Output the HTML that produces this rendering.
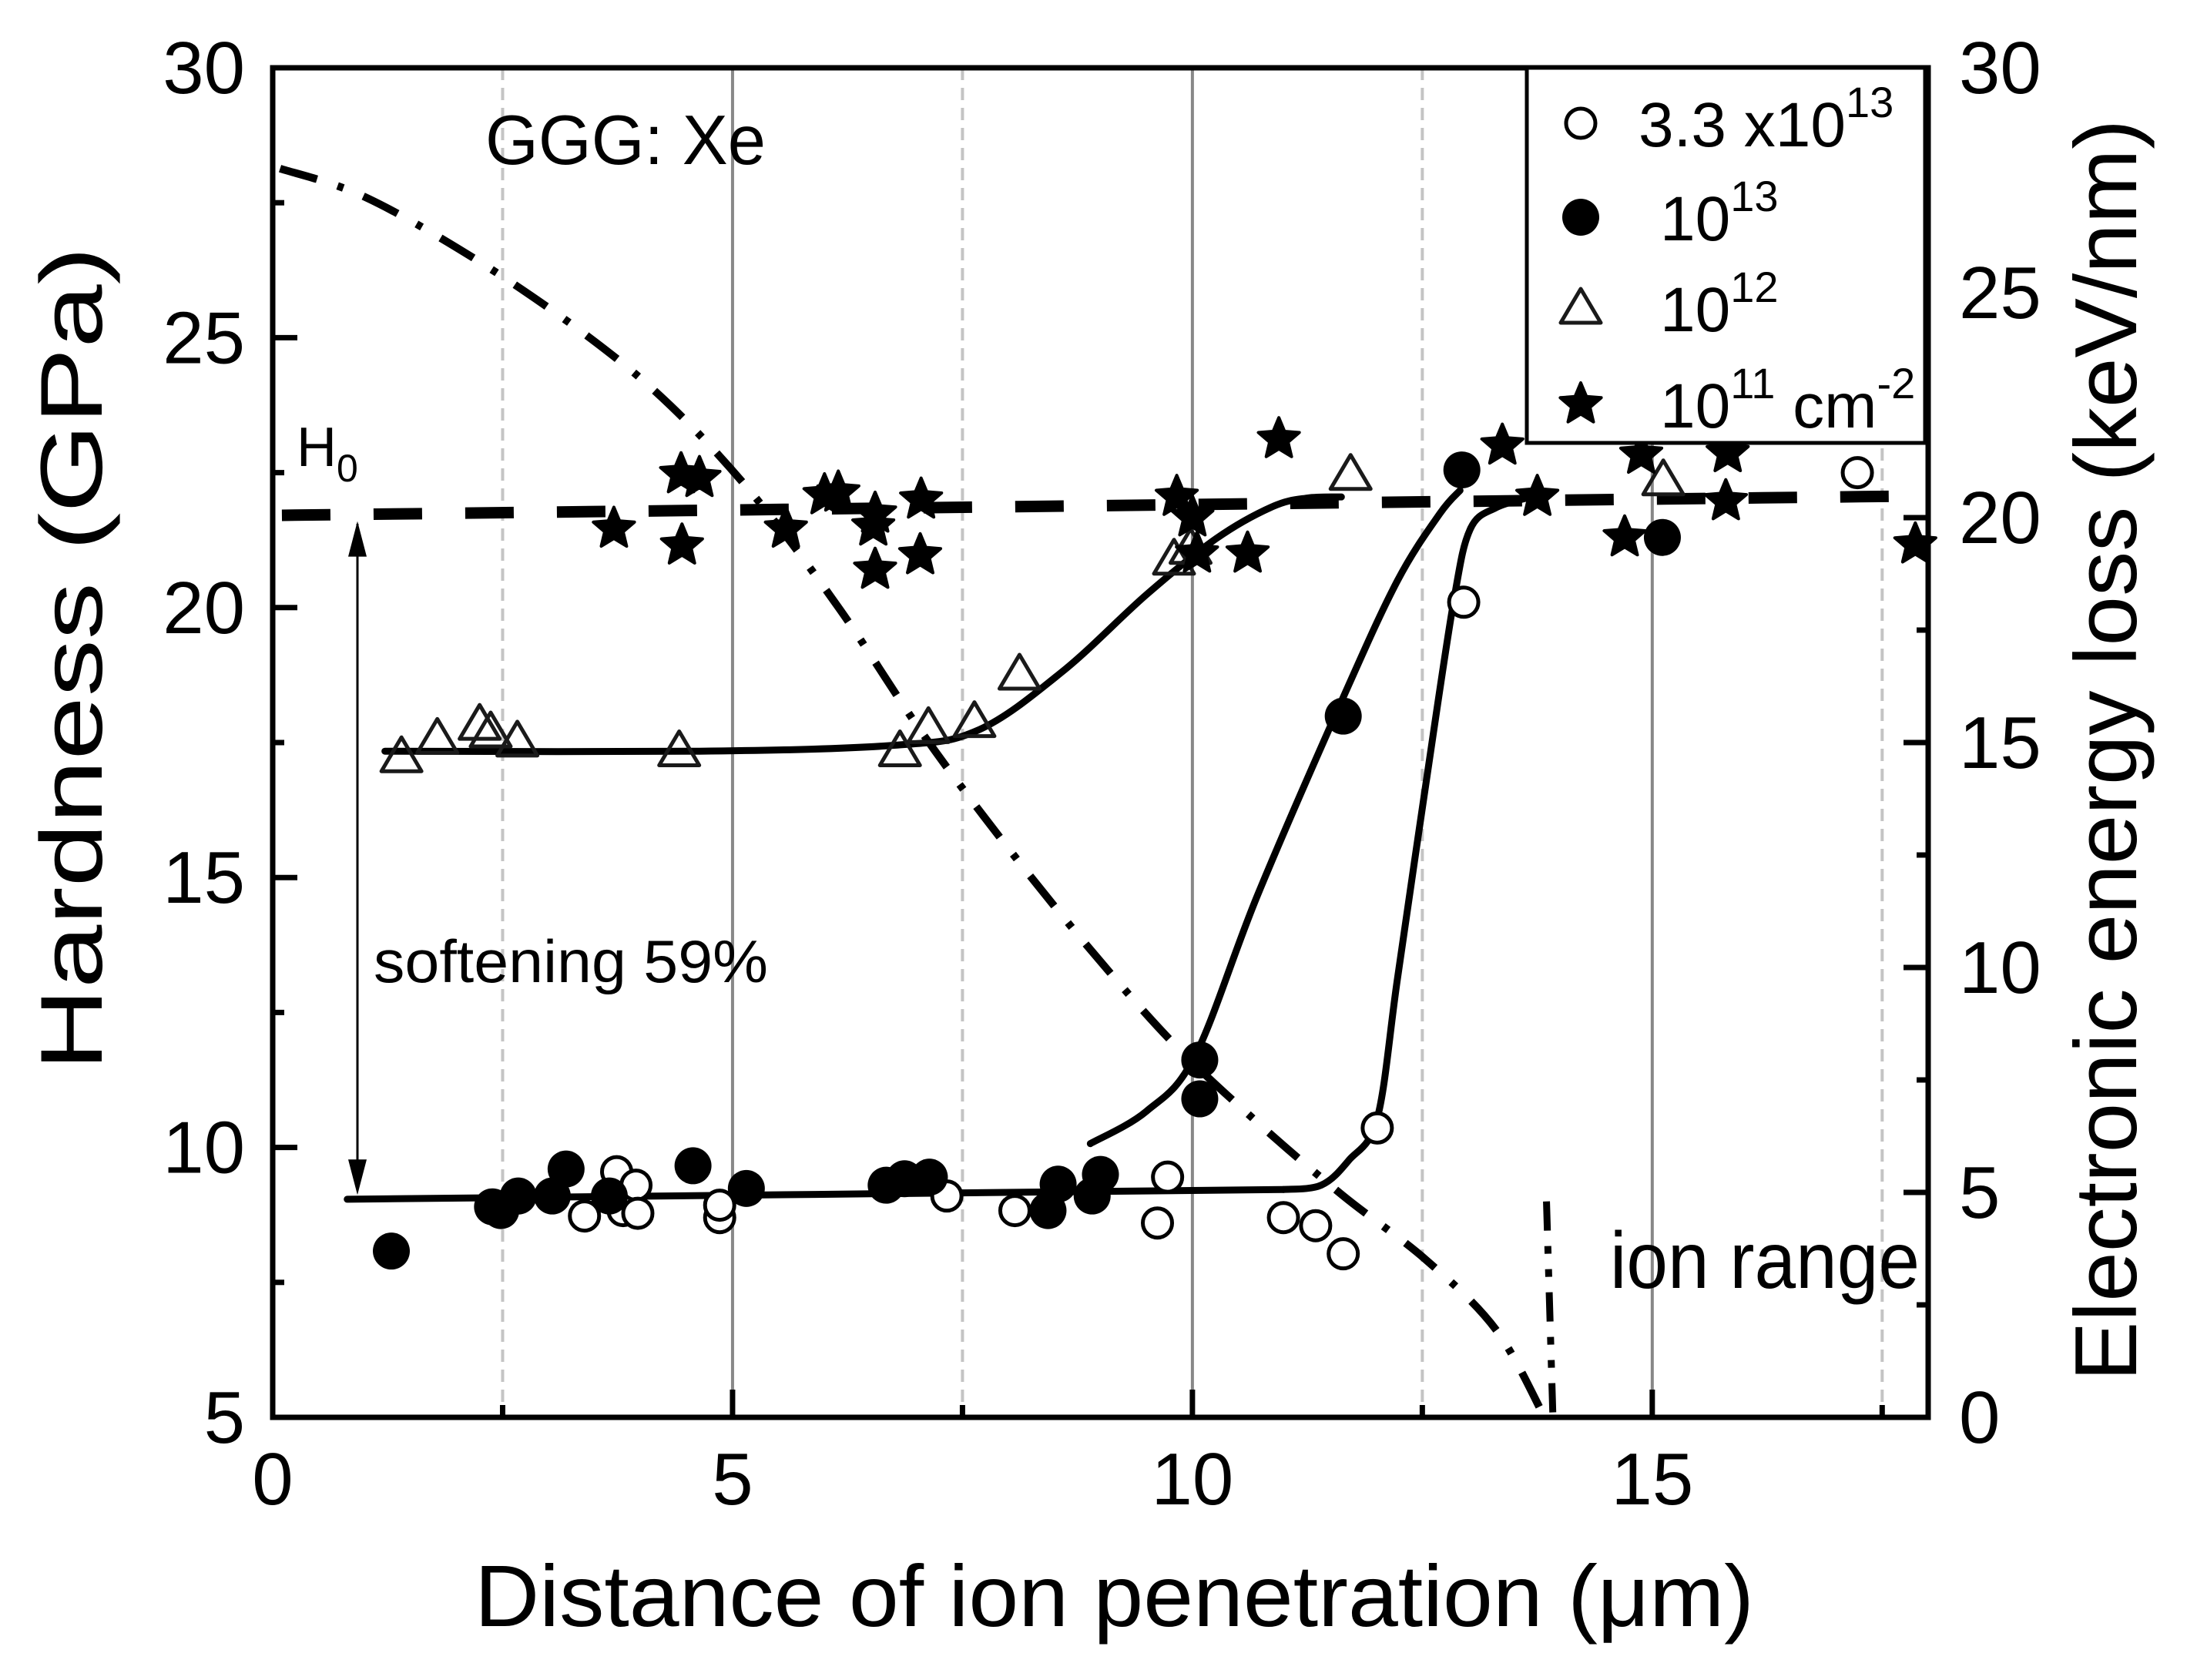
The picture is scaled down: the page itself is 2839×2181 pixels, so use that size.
<!DOCTYPE html>
<html><head><meta charset="utf-8"><style>
html,body{margin:0;padding:0;background:#fff}
svg{display:block}
text{font-family:"Liberation Sans",Arial,sans-serif;fill:#000}
</style></head><body>
<svg id="chart" width="2839" height="2181" viewBox="0 0 2839 2181" xmlns="http://www.w3.org/2000/svg">
<g id="grid"></g>
<g id="curves"></g>
<g id="marks"></g>
<g id="axes"></g>
<g id="labels">
  <text x="630" y="213" font-size="91" textLength="364" lengthAdjust="spacingAndGlyphs">GGG: Xe</text>
  <text x="385" y="605" font-size="72">H<tspan font-size="50" dy="20">0</tspan></text>
  <text x="485" y="1275" font-size="78" textLength="512" lengthAdjust="spacingAndGlyphs">softening 59%</text>
  <text x="2090" y="1672" font-size="104" textLength="402" lengthAdjust="spacingAndGlyphs">ion range</text>
  <text x="616" y="2111" font-size="113" textLength="1661" lengthAdjust="spacingAndGlyphs">Distance of ion penetration (μm)</text>
  <text transform="translate(132,855) rotate(-90)" text-anchor="middle" font-size="114" textLength="1070" lengthAdjust="spacingAndGlyphs">Hardness (GPa)</text>
  <text transform="translate(2773,974) rotate(-90)" text-anchor="middle" font-size="114" textLength="1638" lengthAdjust="spacingAndGlyphs">Electronic energy loss (keV/nm)</text>
</g>
<g id="legend">
  <rect x="1982" y="88" width="517" height="487" fill="#fff" stroke="#000" stroke-width="5"/>
</g>
</svg>
<script>
// ---- data ----
const xOpen = [3.39,3.74,3.81,3.95,3.97,4.86,4.86,7.33,8.07,9.62,9.73,10.99,11.34,11.64,12.01,12.95,17.23];
const yOpen = [8.73,9.55,8.83,9.30,8.78,8.70,8.93,9.10,8.83,8.60,9.45,8.70,8.55,8.03,10.36,20.10,22.50];
const xFill = [1.29,2.39,2.48,2.67,3.04,3.19,3.66,4.57,5.15,6.67,6.87,7.14,8.43,8.54,8.91,9.00,10.08,10.08,11.64,12.93,15.11];
const yFill = [8.08,8.90,8.83,9.10,9.10,9.60,9.10,9.66,9.24,9.30,9.42,9.45,8.83,9.32,9.10,9.50,11.62,10.90,17.99,22.55,21.30];
const xTri = [1.40,1.79,2.25,2.37,2.66,4.42,6.82,7.13,7.63,8.12,9.80,9.98,11.72,15.12];
const yTri = [17.24,17.58,17.84,17.70,17.53,17.35,17.35,17.78,17.89,18.77,20.90,21.10,22.47,22.37];
const xStar = [3.71,4.44,4.64,4.45,5.58,6.00,6.15,6.55,6.53,6.55,7.05,7.04,9.83,10.00,10.05,10.60,10.94,13.37,13.75,14.70,14.88,15.82,15.80,17.86];
const yStar = [21.46,22.47,22.40,21.15,21.46,22.08,22.13,21.74,21.50,20.70,22.00,20.97,22.05,21.67,21.00,21.00,23.12,23.00,22.05,21.30,22.83,22.86,21.97,21.17];
const fitTriX = [1.22,4.64,6.76,7.67,8.59,9.50,10.26,10.87,11.25,11.62];
const fitTriY = [17.34,17.34,17.45,17.73,18.82,20.24,21.28,21.87,22.03,22.05];
const fitFlatX = [0.81,10.99];
const fitFlatY = [9.04,9.22];
const fitOpenX = [10.99,11.40,11.70,12.01,12.23,12.54,12.84,13.02,13.30,13.68];
const fitOpenY = [9.22,9.30,9.76,10.54,13.13,16.75,20.11,21.45,21.85,22.05];
const fitFillX = [8.89,9.50,10.03,10.71,11.63,12.23,12.69,12.91];
const fitFillY = [10.07,10.67,11.70,14.68,18.30,20.50,21.74,22.17];
const h0X = [0.1,18];
const h0Y = [21.71,22.07];
const elossX = [0.08,0.99,2.20,3.42,4.33,5.24,6.16,7.07,7.98,8.89,9.80,10.71,11.63,12.54,13.30,13.83];
const elossY = [27.76,27.14,25.75,24.04,22.48,20.47,17.98,15.19,12.70,10.40,8.30,6.55,4.94,3.50,1.95,0.0];
const ionRangeX = [13.85,13.92];
const ionRangeE = [4.8,0];
const xTicks = [0,5,10,15];
const yTicks = [5,10,15,20,25,30];
const y2Ticks = [0,5,10,15,20,25,30];

// ---- scales ----
const L=354,R=2503,T=88,B=1840;
const sx=v=>L+(v-0)/(18-0)*(R-L);
const sy=v=>B-(v-5)/(30-5)*(B-T);
const sy2=v=>B-(v-0)/(30-0)*(B-T);
const NS="http://www.w3.org/2000/svg";
function mk(tag,attrs,parent){const e=document.createElementNS(NS,tag);for(const k in attrs)e.setAttribute(k,attrs[k]);parent.appendChild(e);return e;}
const grid=document.getElementById('grid'),axes=document.getElementById('axes'),curves=document.getElementById('curves'),marks=document.getElementById('marks'),legend=document.getElementById('legend');

// grid
for(let v=2.5;v<18;v+=2.5){
  const solid=(v%5===0);
  const g=mk('line',{x1:sx(v),x2:sx(v),y1:T,y2:B,stroke:solid?'#888':'#c4c4c4','stroke-width':4,'stroke-dasharray':solid?'none':'16 10'},grid);
  
  
}

function smooth(xs,ys,fy){
  const p=xs.map((x,i)=>[sx(x),fy(ys[i])]);
  let d='M'+p[0][0]+','+p[0][1];
  for(let i=0;i<p.length-1;i++){
    const p0=p[i-1]||p[i],p1=p[i],p2=p[i+1],p3=p[i+2]||p2;
    const c1=[p1[0]+(p2[0]-p0[0])/6,p1[1]+(p2[1]-p0[1])/6];
    const c2=[p2[0]-(p3[0]-p1[0])/6,p2[1]-(p3[1]-p1[1])/6];
    d+=' C'+c1+' '+c2+' '+p2;
  }
  return d;
}
function linePath(xs,ys,fy){return 'M'+xs.map((x,i)=>sx(x)+','+fy(ys[i])).join(' L');}

// energy loss curve
let e=mk('path',{d:smooth(elossX,elossY,sy2),fill:'none',stroke:'#000','stroke-width':10,'stroke-dasharray':'50 28 8 28'},curves);


e=mk('path',{d:linePath(ionRangeX,ionRangeE,sy2),fill:'none',stroke:'#000','stroke-width':9,'stroke-dasharray':'38 20 10 20 10 20'},curves);


// H0 dashed line
e=mk('path',{d:linePath(h0X,h0Y,sy),fill:'none',stroke:'#000','stroke-width':15,'stroke-dasharray':'63 56'},curves);


// fits
[[fitTriX,fitTriY,'fit-1e12'],[fitFlatX,fitFlatY,'fit-baseline'],[fitOpenX,fitOpenY,'fit-3.3e13'],[fitFillX,fitFillY,'fit-1e13']].forEach(f=>{
  const c=mk('path',{d:smooth(f[0],f[1],sy),fill:'none',stroke:'#000','stroke-width':9,'stroke-linecap':'round'},curves);
  
  
});
// softening arrow
e=mk('line',{x1:464,x2:464,y1:sy(21.55),y2:sy(9.2),stroke:'#000','stroke-width':3},curves);


mk('polygon',{points:`464,${sy(21.6)} 452,${sy(21.6)+46} 476,${sy(21.6)+46}`,fill:'#000'},curves);
mk('polygon',{points:`464,${sy(9.12)} 452,${sy(9.12)-46} 476,${sy(9.12)-46}`,fill:'#000'},curves);

// markers
function starPts(cx,cy,r){let s=[];for(let i=0;i<10;i++){const a=-Math.PI/2+i*Math.PI/5;const rr=i%2?r*0.45:r;s.push((cx+rr*Math.cos(a)).toFixed(1)+','+(cy+rr*Math.sin(a)).toFixed(1));}return s.join(' ');}
function drawMarker(kind,cx,cy,parent){
  let m;
  if(kind==='open')m=mk('circle',{cx,cy,r:19,fill:'#fff',stroke:'#000','stroke-width':5},parent);
  else if(kind==='fill')m=mk('circle',{cx,cy,r:24,fill:'#000'},parent);
  else if(kind==='tri')m=mk('polygon',{points:`${cx},${cy-25} ${cx-26},${cy+19} ${cx+26},${cy+19}`,fill:'none',stroke:'#1a1a1a','stroke-width':5,'stroke-linejoin':'round'},parent);
  else m=mk('polygon',{points:starPts(cx,cy,28),fill:'#000',stroke:'#000','stroke-width':4,'stroke-linejoin':'round'},parent);
  return m;
}
[[xTri,yTri,'tri'],[xStar,yStar,'star'],[xOpen,yOpen,'open'],[xFill,yFill,'fill']].forEach(s=>{
  s[0].forEach((x,i)=>{
    const m=drawMarker(s[2],sx(x),sy(s[1][i]),marks);
    
    
  });
});

// axes frame
e=mk('rect',{x:L,y:T,width:R-L,height:B-T,fill:'none',stroke:'#000','stroke-width':7},axes);


for(let v=0;v<=18;v+=2.5){
  const len=(v%5===0)?36:16;
  mk('line',{x1:sx(v),x2:sx(v),y1:B,y2:B-len,stroke:'#000','stroke-width':7},axes);
}
for(let v=5;v<=30;v+=2.5){
  const len=(v%5===0)?32:15;
  mk('line',{x1:L,x2:L+len,y1:sy(v),y2:sy(v),stroke:'#000','stroke-width':7},axes);
}
for(let v=0;v<=30;v+=2.5){
  const len=(v%5===0)?32:15;
  mk('line',{x1:R,x2:R-len,y1:sy2(v),y2:sy2(v),stroke:'#000','stroke-width':7},axes);
}
xTicks.forEach(v=>{
  const t=mk('text',{x:sx(v),y:1953,'text-anchor':'middle','font-size':96},axes);t.textContent=v;
  
  
});
yTicks.forEach(v=>{
  const t=mk('text',{x:318,y:sy(v)+33,'text-anchor':'end','font-size':96},axes);t.textContent=v;
  
  
});
y2Ticks.forEach(v=>{
  const t=mk('text',{x:2543,y:sy2(v)+33,'text-anchor':'start','font-size':96},axes);t.textContent=v;
  
  
});

// legend
const legRows=[['open',160,'3.3 x10','13',2127],['fill',282,'10','13',2155],['tri',400,'10','12',2155],['star',525,'10','11',2155]];
legRows.forEach((r,i)=>{
  const m=drawMarker(r[0],2052,r[1],legend);
  
  
  const t=mk('text',{x:r[4],y:r[1]+30,'font-size':82},legend);
  
  
  t.appendChild(document.createTextNode(r[2]));
  const sup=mk('tspan',{'font-size':56,dy:-38},t);sup.textContent=r[3];
  if(i===3){
    const a=mk('tspan',{'font-size':82,dy:38},t);a.textContent=' cm';
    const b=mk('tspan',{'font-size':56,dy:-38},t);b.textContent='-2';
  }
});
</script>
</body></html>
